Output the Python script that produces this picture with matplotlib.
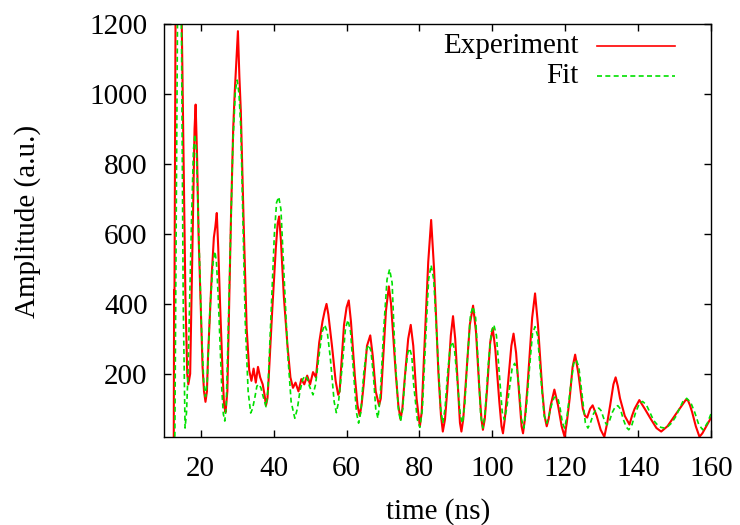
import numpy as np
import matplotlib
matplotlib.use('Agg')
import matplotlib.pyplot as plt

# Experiment trace (time in ns, amplitude in a.u.)
exp_t = [12.6, 12.7, 12.8, 13.1, 13.9, 14.8, 15.8, 16.3, 16.6, 17.1,
         17.8, 18.3, 18.6, 19.0, 19.4, 20.5, 20.9, 21.3, 21.7, 22.0,
         23.0, 23.6, 24.0, 24.4, 24.8, 25.3, 26.0, 26.4, 26.8, 27.3,
         28.3, 28.9, 29.3, 29.7, 30.2, 30.6, 31.0, 31.8, 32.6, 33.3,
         33.9, 34.5, 35.1, 35.7, 36.3, 37.0, 37.5, 37.9, 38.3, 38.6,
         39.6, 40.6, 41.1, 41.5, 42.0, 42.8, 43.8, 44.6, 45.3, 46.0,
         46.8, 47.6, 48.4, 49.2, 50.0, 50.8, 51.6, 52.5, 53.4, 54.0,
         54.5, 55.0, 56.0, 57.0, 57.7, 58.1, 58.4, 59.3, 60.0, 60.6,
         61.2, 62.3, 63.0, 63.6, 64.1, 64.7, 65.6, 66.5, 67.2, 68.0,
         68.9, 69.4, 69.8, 70.8, 71.6, 72.2, 73.5, 74.2, 74.8, 75.3,
         75.9, 76.9, 77.6, 78.3, 79.2, 80.1, 80.6, 81.2, 82.4, 83.2,
         84.0, 85.2, 85.9, 86.4, 87.0, 87.6, 88.6, 89.2, 89.8, 90.6,
         91.1, 91.5, 92.0, 92.6, 93.8, 94.7, 95.5, 96.4, 97.0, 97.4,
         97.9, 98.5, 99.4, 100.1, 100.8, 101.9, 102.5, 102.9, 103.4, 104.0,
         105.2, 105.8, 106.5, 107.5, 108.0, 108.4, 108.9, 109.6, 110.9, 111.7,
         112.5, 113.7, 114.3, 114.9, 115.4, 116.0, 117.0, 118.0, 119.0, 119.8,
         120.4, 121.2, 122.0, 122.7, 123.6, 124.8, 125.4, 126.0, 126.8, 127.5,
         128.6, 129.7, 130.7, 131.5, 132.3, 133.2, 133.8, 134.4, 135.0, 136.3,
         137.6, 138.3, 139.0, 140.3, 141.8, 143.5, 145.0, 146.3, 148.0, 150.0,
         152.0, 153.0, 153.6, 154.2, 154.8, 155.8, 156.8, 157.6, 158.4, 160.0]
exp_amp = [15, 440, 430, 1250, 1500, 1200, 420, 200, 170, 200,
           600, 900, 970, 820, 600, 220, 150, 120, 150, 250,
           480, 590, 620, 660, 560, 400, 200, 110, 90, 150,
           650, 900, 1000, 1080, 1180, 1050, 950, 620, 330, 210,
           180, 215, 175, 220, 190, 170, 140, 110, 130, 180,
           380, 560, 630, 650, 580, 420, 280, 190, 160, 175,
           150, 185, 170, 195, 170, 205, 190, 290, 350, 380,
           400, 370, 280, 180, 140, 150, 200, 340, 390, 410,
           350, 190, 110, 80, 110, 170, 280, 310, 250, 150,
           110, 130, 200, 380, 450, 400, 200, 110, 70, 100,
           180, 300, 340, 280, 130, 50, 90, 240, 520, 640,
           500, 200, 80, 35, 70, 150, 310, 365, 300, 150,
           60, 35, 70, 160, 340, 395, 320, 160, 70, 40,
           70, 150, 290, 330, 270, 120, 50, 30, 70, 140,
           280, 315, 260, 120, 50, 30, 70, 160, 360, 430,
           340, 150, 80, 50, 70, 110, 155, 110, 50, 20,
           60, 130, 220, 255, 200, 100, 80, 75, 100, 110,
           80, 40, 20, 60, 110, 170, 190, 165, 130, 80,
           55, 80, 100, 125, 100, 70, 45, 35, 50, 80,
           110, 125, 125, 110, 90, 50, 20, 30, 45, 75]

# Fit curve
fit_t = [12.9, 13.8, 14.7, 15.2, 15.7, 16.1, 16.5, 17.5, 18.0, 18.4,
         18.8, 19.2, 20.2, 20.8, 21.3, 21.8, 22.5, 23.4, 23.9, 24.3,
         24.8, 25.8, 26.2, 26.6, 27.0, 27.6, 28.8, 29.5, 30.0, 30.5,
         31.0, 32.2, 33.0, 33.7, 34.2, 34.8, 35.4, 36.0, 36.5, 37.0,
         37.9, 38.4, 39.0, 40.2, 40.8, 41.4, 42.0, 42.5, 43.9, 44.8,
         45.8, 46.5, 47.2, 48.0, 48.7, 49.3, 49.8, 50.8, 51.5, 52.3,
         53.3, 54.0, 54.7, 55.5, 56.6, 57.2, 57.8, 58.8, 59.7, 60.4,
         61.1, 61.8, 62.7, 63.3, 63.9, 64.7, 65.5, 66.1, 66.7, 67.4,
         68.0, 68.6, 69.2, 70.2, 71.1, 71.8, 72.5, 73.3, 74.2, 74.8,
         75.4, 76.1, 76.8, 77.3, 77.9, 78.4, 79.4, 80.1, 80.8, 81.7,
         82.5, 83.2, 83.9, 84.8, 85.8, 86.4, 87.0, 87.7, 88.4, 89.0,
         89.6, 90.3, 91.2, 91.8, 92.4, 93.2, 94.0, 94.7, 95.4, 96.1,
         96.8, 97.4, 98.0, 98.9, 99.7, 100.4, 101.1, 101.9, 102.7, 103.3,
         103.9, 104.7, 105.4, 106.1, 106.8, 107.4, 108.0, 108.6, 109.2, 110.2,
         111.0, 111.7, 112.4, 113.2, 114.2, 114.9, 115.5, 116.2, 116.9, 117.5,
         118.1, 118.6, 119.2, 119.8, 120.5, 121.4, 122.3, 123.0, 123.7, 124.6,
         125.5, 126.2, 126.9, 127.7, 128.5, 129.2, 129.8, 130.3, 130.9, 131.4,
         132.1, 132.9, 133.7, 134.4, 135.1, 135.9, 136.7, 137.4, 138.3, 139.3,
         140.3, 141.2, 142.2, 143.2, 144.2, 145.2, 146.2, 147.2, 148.2, 149.2,
         150.3, 151.3, 152.3, 153.3, 154.4, 155.5, 156.6, 157.7, 158.4, 159.0,
         160.0]
fit_amp = [20, 1500, 1200, 400, 45, 90, 200, 650, 840, 885,
           840, 700, 330, 180, 135, 180, 380, 520, 550, 520,
           420, 150, 85, 65, 110, 350, 850, 1010, 1040, 1000,
           900, 350, 150, 88, 100, 130, 165, 170, 160, 140,
           106, 150, 300, 600, 690, 706, 670, 560, 250, 120,
           73, 100, 150, 185, 195, 185, 165, 140, 170, 240,
           320, 340, 320, 250, 120, 89, 120, 220, 330, 354,
           320, 220, 90, 59, 90, 200, 270, 283, 265, 190,
           100, 73, 130, 330, 470, 499, 460, 250, 100, 64,
           100, 200, 260, 273, 250, 170, 70, 47, 100, 300,
           470, 511, 470, 300, 100, 59, 100, 200, 275, 292,
           270, 190, 80, 59, 110, 250, 370, 392, 360, 230,
           80, 45, 90, 230, 320, 340, 310, 200, 90, 69,
           100, 160, 215, 230, 210, 150, 70, 45, 90, 220,
           315, 335, 310, 200, 80, 59, 80, 110, 132, 135,
           125, 100, 60, 45, 80, 160, 230, 240, 220, 140,
           60, 45, 60, 85, 100, 102, 95, 80, 62, 54,
           65, 90, 106, 109, 100, 70, 48, 40, 55, 90,
           115, 121, 112, 90, 67, 55, 47, 45, 50, 60,
           78, 100, 122, 130, 118, 90, 55, 40, 50, 60,
           87]

plt.rcParams['font.family'] = ['Liberation Serif', 'DejaVu Serif']

fig = plt.figure(figsize=(7.4, 5.25), dpi=100)
ax = fig.add_axes([0.222, 0.168, 0.739, 0.786])

ax.plot(exp_t, exp_amp, color='#ff0000', lw=1.5)
ax.plot(fit_t, fit_amp, color='#00e000', lw=1.2, dashes=(3, 2))

ax.set_xlim(10, 160)
ax.set_ylim(20, 1200)
ax.set_xticks(np.arange(20, 161, 20))
ax.set_yticks(np.arange(200, 1201, 200))
ax.tick_params(direction='in', length=5, width=1, top=True, right=True,
               labelsize=21)
ax.tick_params(axis='x', pad=14)
ax.tick_params(axis='y', pad=12)
for s in ax.spines.values():
    s.set_linewidth(1)

fig.text(0.037, 0.579, 'Amplitude (a.u.)', rotation=90, ha='center',
         va='center', fontsize=21)
fig.text(0.592, 0.025, 'time (ns)', ha='center', va='center', fontsize=21)

# legend, gnuplot style
ax.text(0.757, 0.947, 'Experiment', transform=ax.transAxes, ha='right',
        va='center', fontsize=21)
ax.text(0.757, 0.875, 'Fit', transform=ax.transAxes, ha='right',
        va='center', fontsize=21)
ax.plot([0.791, 0.934], [0.947, 0.947], transform=ax.transAxes,
        color='#ff0000', lw=1.2)
ax.plot([0.791, 0.934], [0.875, 0.875], transform=ax.transAxes,
        color='#00e000', lw=1.2, dashes=(3, 2))

fig.savefig('out.png', dpi=100)
